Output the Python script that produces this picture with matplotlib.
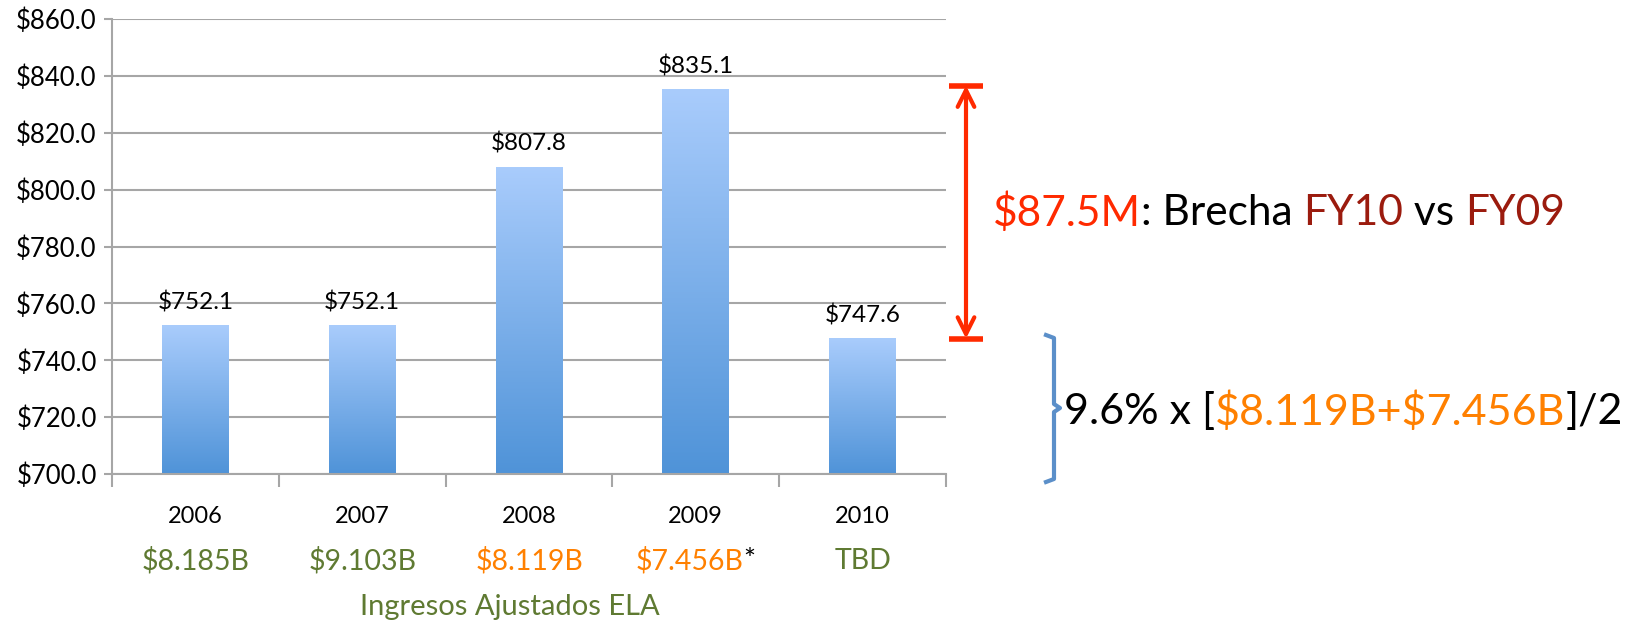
import numpy as np
import matplotlib
matplotlib.use("Agg")
import matplotlib.pyplot as plt
from matplotlib.colors import LinearSegmentedColormap
from matplotlib.lines import Line2D

# ---- data ----
years = ["2006", "2007", "2008", "2009", "2010"]
values = [752.1, 752.1, 807.8, 835.1, 747.6]
income_labels = ["$8.185B", "$9.103B", "$8.119B", "$7.456B", "TBD"]
income_colors = ["#5F7A32", "#5F7A32", "#FF8000", "#FF8000", "#5F7A32"]
income_suffix = ["", "", "", "*", ""]
yticks = [700, 720, 740, 760, 780, 800, 820, 840, 860]

W, H = 1642, 622
plt.rcParams['font.family'] = ['Lato', 'DejaVu Sans']
fig = plt.figure(figsize=(W / 100, H / 100), dpi=100)

L, R, T, B = 112, 946, 19, 474
ax = fig.add_axes([L / W, 1 - B / H, (R - L) / W, (B - T) / H])

grid_c = "#A6A6A6"
ax.set_yticks(yticks)
ax.set_yticklabels([f"${v:.1f}" for v in yticks], fontsize=18.5)
ax.yaxis.grid(True, color=grid_c, lw=1.5)
ax.set_axisbelow(True)
for s in ["top", "right"]:
    ax.spines[s].set_visible(False)
for s in ["left", "bottom"]:
    ax.spines[s].set_color(grid_c)
    ax.spines[s].set_linewidth(1.5)
ax.tick_params(axis="y", direction="out", length=6, width=1.5, color=grid_c, pad=5)

x = np.arange(len(years))
ax.set_xticks(np.arange(-0.5, len(years), 1.0), minor=True)
ax.set_xticks(x)
ax.set_xticklabels(years, fontsize=17)
ax.tick_params(axis="x", which="major", length=0, pad=23)
ax.tick_params(axis="x", which="minor", direction="out", length=9, width=1.5, color=grid_c)

# gradient bars
cmap = LinearSegmentedColormap.from_list("g", ["#4F93D8", "#A9CCFC"])
grad = np.linspace(0, 1, 256).reshape(-1, 1)
bars = ax.bar(x, values, width=0.40, bottom=0, color="none", edgecolor="none")
for b, v in zip(bars, values):
    x0 = b.get_x()
    x1 = x0 + b.get_width()
    ax.imshow(grad, cmap=cmap, origin="lower", aspect="auto",
              extent=[x0, x1, 700, v], zorder=2)
    ax.annotate(f"${v:.1f}", (b.get_x() + b.get_width() / 2, v),
                xytext=(0, 9), textcoords="offset points",
                ha="center", va="bottom", fontsize=17.5)
ax.set_xlim(-0.5, len(years) - 0.5)
ax.set_ylim(700, 860)

renderer = fig.canvas.get_renderer()


def pieces_text(px, py, pieces, size, ha="left", fit_width=None):
    """Draw multi-coloured text; px, py in pixels from top-left."""
    objs = []
    for s, c in pieces:
        t = fig.text(0, 0, s, color=c, fontsize=size, va="center", ha="left",
                     parse_math=False)
        objs.append(t)
    widths = [t.get_window_extent(renderer).width for t in objs]
    if fit_width is not None:
        f = fit_width / sum(widths)
        for t in objs:
            t.set_fontsize(size * f)
        widths = [t.get_window_extent(renderer).width for t in objs]
    total = sum(widths)
    start = px - total / 2 if ha == "center" else px
    cur = start
    for t, w in zip(objs, widths):
        t.set_position((cur / W, 1 - py / H))
        cur += w


# income labels below the years
for i, (lab, col, suf) in enumerate(zip(income_labels, income_colors, income_suffix)):
    cx = L + (i + 0.5) * (R - L) / len(years)
    pcs = [(lab, col)]
    if suf:
        pcs.append((suf, "black"))
    pieces_text(cx, 561, pcs, 20.5, ha="center")

fig.text(510 / W, 1 - 607 / H, "Ingresos Ajustados ELA", color="#5F7A32",
         fontsize=21, ha="center", va="center", parse_math=False)

# red double arrow
red = "#FF2A00"
ytop, ybot = values[3] + 1.5, values[4]
xa = -0.5 + (966 - L) / ((R - L) / len(years))
ax.annotate("", xy=(xa, ytop), xytext=(xa, ybot), xycoords="data",
            arrowprops=dict(arrowstyle="<->", color=red, lw=3,
                            mutation_scale=30, shrinkA=0, shrinkB=0),
            annotation_clip=False)
cap = 17 / ((R - L) / len(years))
for yy in (ytop, ybot):
    ax.plot([xa - cap, xa + cap], [yy, yy], color=red, lw=4, clip_on=False,
            solid_capstyle="butt")

pieces_text(993, 213, [("$87.5M", red), (": Brecha ", "black"), ("FY10", "#9B1B0E"),
                       (" vs ", "black"), ("FY09", "#9B1B0E")], 34, fit_width=575)

# blue bracket
def P(px, py):
    return px / W, 1 - py / H

bx0, bx1 = 1046, 1054
pts = [P(bx0, 335), P(bx1, 338), P(bx1, 404), P(bx1 + 6, 408), P(bx1, 412),
       P(bx1, 479), P(bx0, 482)]
xs, ys = zip(*pts)
fig.add_artist(Line2D(xs, ys, color="#5B8FC9", lw=3, solid_joinstyle="round"))

orange = "#FF8000"
pieces_text(1064, 412, [("9.6% x [", "black"), ("$8.119B+$7.456B", orange),
                        ("]/2", "black")], 34, fit_width=560)

fig.savefig("out.png", dpi=100)
